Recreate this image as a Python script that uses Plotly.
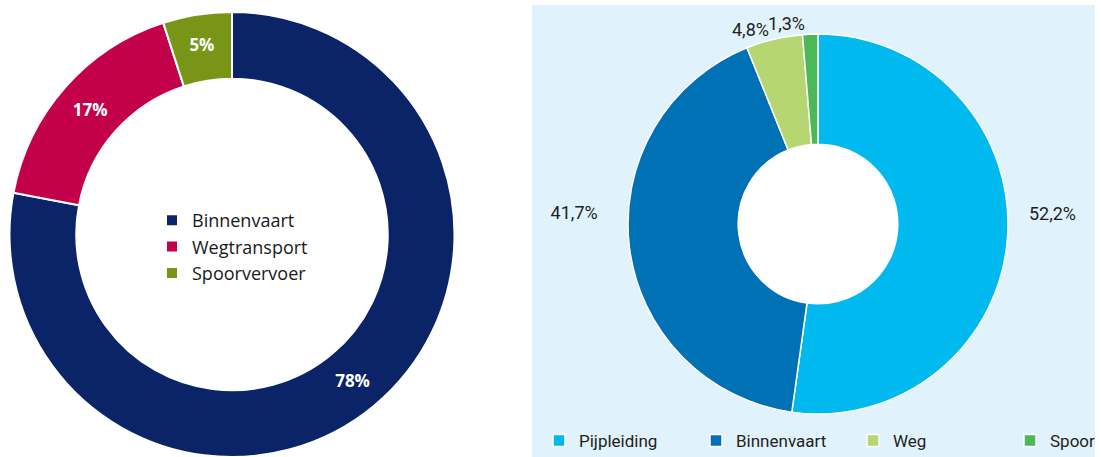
import plotly.graph_objects as go

# Left chart data
left_labels = ["Binnenvaart", "Wegtransport", "Spoorvervoer"]
left_values = [78, 17, 5]
left_colors = ["#0B2468", "#C3004A", "#789518"]

# Right chart data
right_labels = ["Pijpleiding", "Binnenvaart\u200b", "Weg", "Spoor"]
right_values = [52.2, 41.7, 4.8, 1.3]
right_colors = ["#00B9EF", "#0071B5", "#B6D672", "#4CB857"]

W, H = 1101, 457

left_text = [f"{v}%" for v in left_values]
right_text = [f"{v:.1f}%".replace(".", ",") for v in right_values]
# padding of the side labels (pushes them slightly upward / sideways)
NB = "\u00a0"
BR = "<br>" + NB
right_text_padded = [
    NB + right_text[0] + BR * 2,
    right_text[1] + NB * 2 + BR * 3,
    right_text[2],
    right_text[3],
]

COND = "Roboto"

fig = go.Figure()

fig.add_trace(go.Pie(
    labels=left_labels, values=left_values, text=left_text,
    textinfo="text", textposition="inside", insidetextorientation="horizontal",
    sort=False, direction="clockwise", rotation=0, hole=0.70,
    marker=dict(colors=left_colors, line=dict(color="white", width=2)),
    textfont=dict(family="Open Sans", size=17, color="white", weight="bold"),
    domain=dict(x=[9.5 / W, 454.5 / W], y=[0, 445 / H]),
    legend="legend", hoverinfo="label+percent",
))

# right donut geometry (pixels)
RCX, RCY, RR, RHOLE = 818, 224, 190, 0.42
right_domain = dict(x=[(RCX - RR) / W, (RCX + RR) / W],
                    y=[(H - RCY - RR) / H, (H - RCY + RR) / H])

# main right donut (labels for all but the smallest slice)
fig.add_trace(go.Pie(
    labels=right_labels, values=right_values, text=right_text_padded,
    textinfo="text", textposition=["outside", "outside", "outside", "none"],
    sort=False, direction="clockwise", rotation=0, hole=RHOLE,
    marker=dict(colors=right_colors, line=dict(color="white", width=1.5)),
    outsidetextfont=dict(family=COND, size=18, color="#231F20"),
    domain=right_domain,
    legend="legend2", hoverinfo="label+percent",
))

# transparent overlay of the same donut carrying only the smallest slice label
fig.add_trace(go.Pie(
    labels=right_labels, values=right_values, text=right_text_padded,
    textinfo="text", textposition=["none", "none", "none", "outside"],
    sort=False, direction="clockwise", rotation=0, hole=RHOLE,
    marker=dict(colors=["rgba(0,0,0,0)"] * len(right_values), line=dict(width=0)),
    outsidetextfont=dict(family=COND, size=18, color="#231F20"),
    domain=right_domain, showlegend=False, hoverinfo="skip",
    legend="legend2",
))

hr = RR * RHOLE
fig.update_layout(
    width=W, height=H,
    margin=dict(l=0, r=0, t=0, b=0, autoexpand=False),
    paper_bgcolor="white", plot_bgcolor="white",
    showlegend=True,
    legend=dict(
        x=152 / W, y=(H - 202) / H, xanchor="left", yanchor="top",
        orientation="v", bgcolor="rgba(0,0,0,0)",
        font=dict(family="Open Sans", size=18, color="#1a1a1a"),
    ),
    legend2=dict(
        x=539 / W, y=(H - 441) / H, xanchor="left", yanchor="middle",
        orientation="h", bgcolor="rgba(0,0,0,0)",
        entrywidth=112, entrywidthmode="pixels",
        font=dict(family=COND, size=17, color="#231F20"),
    ),
    shapes=[
        dict(type="rect", xref="paper", yref="paper",
             x0=532 / W, x1=1095 / W, y0=0, y1=(H - 5) / H,
             fillcolor="#E0F2FC", line=dict(width=0), layer="below"),
        dict(type="circle", xref="paper", yref="paper",
             x0=(RCX - hr) / W, x1=(RCX + hr) / W,
             y0=(H - RCY - hr) / H, y1=(H - RCY + hr) / H,
             fillcolor="white", line=dict(width=0), layer="below"),
    ],
)

fig.write_html("out.html", config={"displayModeBar": False},
               post_script="document.body.style.margin='0px';")
